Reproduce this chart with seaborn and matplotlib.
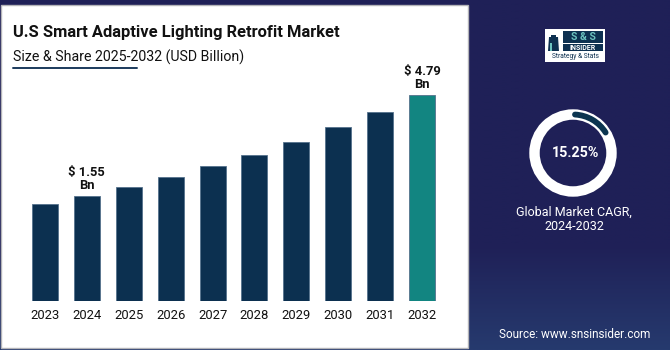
import numpy as np
import pandas as pd
import matplotlib
matplotlib.use("Agg")
import matplotlib.pyplot as plt
from matplotlib.patches import Rectangle, Circle, Arc, Polygon
from matplotlib.colors import LinearSegmentedColormap
import seaborn as sns

# ---------------- data ----------------
years = ["2023", "2024", "2025", "2026", "2027", "2028", "2029", "2030", "2031", "2032"]
values = [1.42, 1.55, 1.71, 1.92, 2.17, 2.46, 2.84, 3.34, 3.95, 4.79]
bar_colors = ["#0c3050"] * 9 + ["#128581"]
label_years = ["2024", "2032"]
label_texts = ["$ 1.55\nBn", "$ 4.79\nBn"]
cagr = 15.25
title = "U.S Smart Adaptive Lighting Retrofit Market"
subtitle = "Size & Share 2025-2032 (USD Billion)"
cagr_caption = "Global Market CAGR,\n2024-2032"
source = "Source: www.snsinsider.com"

sns.set_theme(style="white")
plt.rcParams["font.family"] = ["Roboto", "DejaVu Sans"]

W, H = 670, 350
fig = plt.figure(figsize=(W / 100, H / 100), dpi=100)

# ---------------- background (pixel coordinates) ----------------
bg = fig.add_axes([0, 0, 1, 1], zorder=0)
bg.set_xlim(0, W)
bg.set_ylim(H, 0)
bg.axis("off")
grad = np.ones((200, 2))
yy = np.linspace(0, 1, 200)
grad[:, 0] = np.clip((yy - 0.70) / 0.30, 0, 1)
grad[:, 1] = grad[:, 0]
cmap = LinearSegmentedColormap.from_list("bgc", ["#1f2057", "#263a6e"])
bg.imshow(grad, cmap=cmap, extent=(0, W, H, 0), aspect="auto", zorder=0)

# white panel
bg.add_patch(Rectangle((1, 5), 467, 343, facecolor="white", edgecolor="#b4b4b8",
                       linewidth=1.0, zorder=1))

# title / subtitle
bg.text(13, 37, title, fontsize=11.9, fontweight="bold", color="#111111",
        ha="left", va="baseline", zorder=3)
bg.text(13, 62, subtitle, fontsize=10.2, color="#111111",
        ha="left", va="baseline", zorder=3)
bg.plot([13, 137], [68, 68], color="#1b3a5c", linewidth=1.4, zorder=3)

# logo
bg.add_patch(Rectangle((545, 29), 60, 33, facecolor="white", edgecolor="none", zorder=2))
bg.add_patch(Polygon([[548, 51], [549, 37], [551, 37], [551, 35], [556, 35], [556, 37],
                      [558, 37], [559, 51]], closed=True, facecolor="#0d3050",
                     edgecolor="none", zorder=3))
bg.add_patch(Rectangle((550, 43), 2, 8, facecolor="#6cc4c0", edgecolor="none", zorder=4))
bg.add_patch(Rectangle((563, 31), 40, 12, facecolor="#0d3050", edgecolor="none", zorder=3))
bg.text(583, 37.5, "S & S", fontsize=7.5, fontweight="bold", color="#6cc4c0",
        ha="center", va="center", zorder=4)
bg.add_patch(Rectangle((563, 44), 40, 7, facecolor="#0d3050", edgecolor="none", zorder=3))
bg.text(583, 47.8, "INSIDER", fontsize=5, fontweight="bold", color="white",
        ha="center", va="center", zorder=4)
bg.text(575, 57, "Strategy & Stats", fontsize=4.8, color="#0d3050",
        ha="center", va="center", zorder=4)

# donut
cx, cy, r = 573, 153, 38.5
bg.add_patch(Circle((cx, cy), r, fill=False, edgecolor="white", linewidth=7.5, zorder=3))
sweep = cagr / 100 * 360
start = 87
arc = Arc((cx, cy), 2 * r, 2 * r, theta1=-start, theta2=-(start - sweep),
          edgecolor="#0c3550", linewidth=4.2, zorder=4)
arc.set_capstyle("round")
bg.add_patch(arc)
bg.text(cx + 3, cy, f"{cagr:.2f}%", fontsize=10.3, fontweight="bold", color="white",
        ha="center", va="center", zorder=4)
bg.text(574, 219, cagr_caption, fontsize=9.0, color="white", ha="center",
        va="center", linespacing=1.1, zorder=4)
bg.text(575, 334, source, fontsize=8.5, color="white", ha="center", va="center", zorder=4)

# ---------------- bar chart ----------------
ax = fig.add_axes([24 / W, 49 / H, 419 / W, 241 / H], zorder=2)
ax.patch.set_alpha(0)
df = pd.DataFrame({"year": years, "value": values})
sns.barplot(data=df, x="year", y="value", hue="year", palette=bar_colors,
            saturation=1, legend=False, width=0.62, edgecolor="#55718c",
            linewidth=0.6, ax=ax)
ax.set_yscale("log")
ax.set_ylim(0.48, 7.08)
ax.set_xlim(-0.5, len(years) - 0.5)
for s in ax.spines.values():
    s.set_visible(False)
ax.set_xlabel("")
ax.set_ylabel("")
ax.set_yticks([])
ax.yaxis.set_minor_locator(matplotlib.ticker.NullLocator())
ax.tick_params(axis="x", length=0, pad=6, labelsize=9.4, labelcolor="#111111")

for yr, txt in zip(label_years, label_texts):
    i = years.index(yr)
    ax.annotate(txt, xy=(i, values[i]), xytext=(0, 3), textcoords="offset points",
                ha="center", va="bottom", fontsize=9.4, fontweight="bold",
                color="#111111", linespacing=0.95)

fig.savefig("out.png", dpi=100)
